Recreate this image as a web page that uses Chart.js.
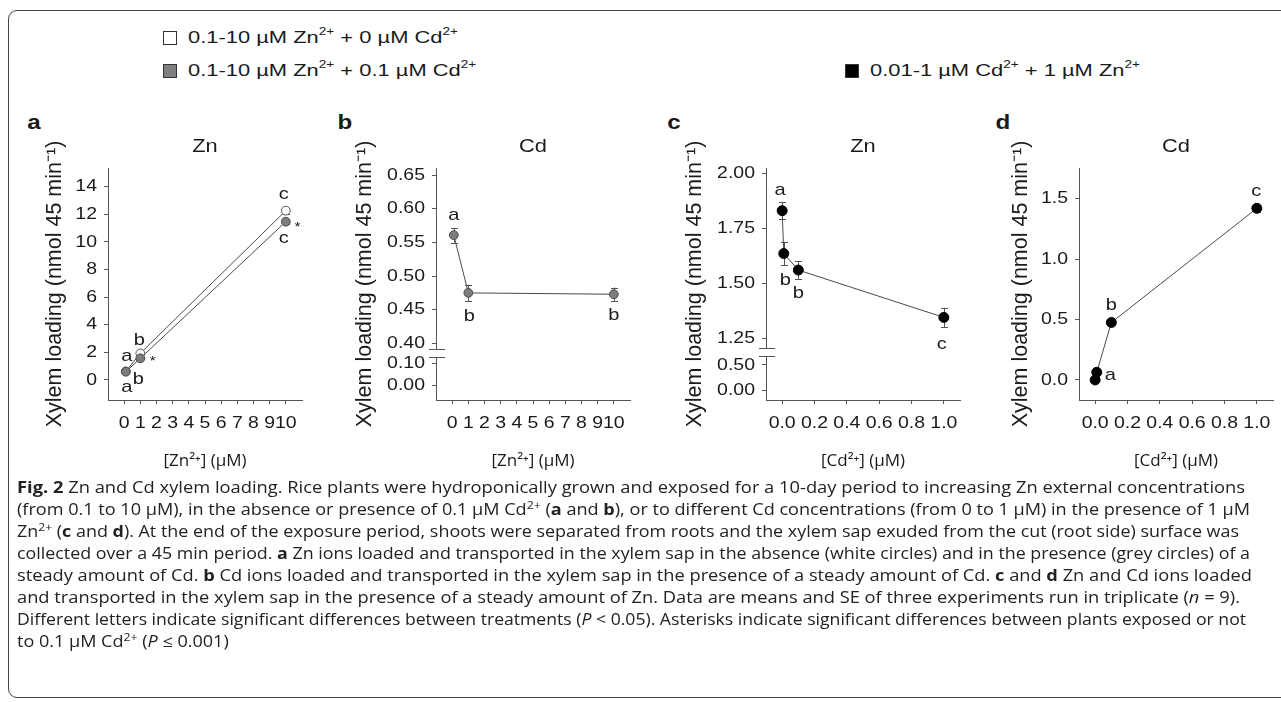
<!DOCTYPE html>
<html>
<head>
<meta charset="utf-8">
<title>Fig. 2 Zn and Cd xylem loading</title>
<script src="https://cdn.jsdelivr.net/npm/chart.js@4.4.1/dist/chart.umd.min.js"></script>
<style>
html,body{margin:0;padding:0;background:#fff;}
body{width:1281px;height:702px;position:relative;overflow:hidden;font-family:"Liberation Sans",Arial,Helvetica,sans-serif;color:#1a1a1a;}
#frame{position:absolute;left:8px;top:10px;width:1300px;height:688px;border:1.6px solid #444;border-radius:9px;box-sizing:border-box;}
.abs{position:absolute;white-space:nowrap;}
.leg{font-size:17px;line-height:20px;transform-origin:0 0;}
.leg sup{font-size:0.62em;line-height:0;vertical-align:0.75em;}
.sw{position:absolute;width:14px;height:14px;box-sizing:border-box;border:1px solid #333;}
.plet{font-weight:bold;font-size:21px;line-height:21px;}
.cap{font-family:"Open Sans","Noto Sans",sans-serif;font-size:16px;line-height:22px;transform-origin:0 0;left:17px;color:#222;}
.cap sup{font-size:0.68em;line-height:0;vertical-align:0.55em;}
canvas{position:absolute;}
</style>
</head>
<body>
<div id="frame"></div>
<div id="legend"></div>
<div id="pletters"></div>
<canvas id="pa"></canvas>
<canvas id="pb"></canvas>
<canvas id="pc"></canvas>
<canvas id="pd"></canvas>
<div id="caption"></div>
<script>
// ================= DATA =================
// external concentrations (µM)
const znConc = [0.1, 1, 10];          // panels a, b
const cdConc = [0, 0.01, 0.1, 1];     // panels c, d

// panel a: Zn loading (nmol 45 min-1)
const aZnNoCd    = [0.62, 1.93, 12.27];
const aZnNoCdErr = [0.06, 0.10, 0.22];
const aZnCd      = [0.60, 1.57, 11.47];
const aZnCdErr   = [0.06, 0.09, 0.20];
// panel b: Cd loading
const bCd        = [0.561, 0.475, 0.473];
const bCdErr     = [0.011, 0.012, 0.010];
// panel c: Zn loading
const cZn        = [1.830, 1.635, 1.560, 1.345];
const cZnErr     = [0.040, 0.054, 0.040, 0.044];
// panel d: Cd loading
const dCd        = [0.000, 0.064, 0.476, 1.422];
const dCdErr     = [0.004, 0.008, 0.012, 0.028];

// significance letters
const aLettersNoCd = ['a', 'b', 'c'];
const aLettersCd   = ['a', 'b', 'c'];
const aStars       = ['', '*', '*'];
const bLetters     = ['a', 'b', 'b'];
const cLetters     = ['a', 'b', 'b', 'c'];
const dLetters     = ['', 'a', 'b', 'c'];

// tick labels
const abXTicks = [0, 1, 2, 3, 4, 5, 6, 7, 8, 9, 10];
const cdXTicks = [0, 0.2, 0.4, 0.6, 0.8, 1.0];
const aYTicks  = [0, 2, 4, 6, 8, 10, 12, 14];
const bYTicks  = [0.00, 0.10, 0.40, 0.45, 0.50, 0.55, 0.60, 0.65];
const cYTicks  = [0.00, 0.50, 1.25, 1.50, 1.75, 2.00];
const dYTicks  = [0.0, 0.5, 1.0, 1.5];

// texts
const panelLetters = ['a', 'b', 'c', 'd'];
const panelTitles  = ['Zn', 'Cd', 'Zn', 'Cd'];
const xTitles      = ['[Zn²⁺] (μM)', '[Zn²⁺] (μM)', '[Cd²⁺] (μM)', '[Cd²⁺] (μM)'];
const yTitle       = 'Xylem loading (nmol 45 min⁻¹)';
const legendTexts  = [
  '0.1-10 µM Zn<sup>2+</sup> + 0 µM Cd<sup>2+</sup>',
  '0.1-10 µM Zn<sup>2+</sup> + 0.1 µM Cd<sup>2+</sup>',
  '0.01-1 µM Cd<sup>2+</sup> + 1 µM Zn<sup>2+</sup>'
];
const captionLines = [
  '<b>Fig. 2</b> Zn and Cd xylem loading. Rice plants were hydroponically grown and exposed for a 10-day period to increasing Zn external concentrations',
  '(from 0.1 to 10 μM), in the absence or presence of 0.1 μM Cd<sup>2+</sup> (<b>a</b> and <b>b</b>), or to different Cd concentrations (from 0 to 1 μM) in the presence of 1 μM',
  'Zn<sup>2+</sup> (<b>c</b> and <b>d</b>). At the end of the exposure period, shoots were separated from roots and the xylem sap exuded from the cut (root side) surface was',
  'collected over a 45 min period. <b>a</b> Zn ions loaded and transported in the xylem sap in the absence (white circles) and in the presence (grey circles) of a',
  'steady amount of Cd. <b>b</b> Cd ions loaded and transported in the xylem sap in the presence of a steady amount of Cd. <b>c</b> and <b>d</b> Zn and Cd ions loaded',
  'and transported in the xylem sap in the presence of a steady amount of Zn. Data are means and SE of three experiments run in triplicate (<i>n</i> = 9).',
  'Different letters indicate significant differences between treatments (<i>P</i> &lt; 0.05). Asterisks indicate significant differences between plants exposed or not',
  'to 0.1 μM Cd<sup>2+</sup> (<i>P</i> ≤ 0.001)'
];

// ================= LAYOUT / STYLE =================
const SANS  = '"Liberation Sans", Arial, Helvetica, sans-serif';
const HUMAN = '"Open Sans", "Noto Sans", sans-serif';
const INK = '#1a1a1a', AXIS = '#555', LINE = '#4a4a4a';
const GREY = '#7d7d7d', GREY_EDGE = '#4a4a4a';
const STRETCH = 1.18;
const CANVAS_TOP = 130, CANVAS_H = 350, AREA_W = 194, PAD_R = 8, X_AXIS_H = 80;

const LAY = {
  canvasLeft: [38, 348, 678, 1004],
  yAxisW:     [70, 88, 88, 75],
  letterX:    [34, 345, 674, 1003],
  letterTop:  110.7,
  legend: [
    {sw: [163, 31], txt: [188, 28], fill: '#fff'},
    {sw: [163, 64], txt: [188, 61], fill: '#808080'},
    {sw: [845, 64], txt: [870, 61], fill: '#000'}
  ],
  legendW: 270,
  capTop: 476, capStep: 22,
  capW: [1228, 1233, 1222, 1233, 1235, 1223, 1229],
  // letter offsets [dx, dy to baseline] relative to the point
  aNoCd: [[1, -10], [-1, -8], [-2, -11.7]],
  aCd:   [[1, 20], [-2, 26], [-2, 21.6]],
  aStar: [null, [12.4, 6.8], [11.7, 9]],
  b:     [[0, -15.4], [1, 27.7], [0, 26]],
  c:     [[-2, -15.7], [1.5, 31.7], [0, 27.7], [-2, 31.7]],
  d:     [null, [13.5, 7.7], [0, -12.7], [-0.5, -12.6]]
};

// ================= HTML TEXT =================
const legendEl = document.getElementById('legend');
const legSpans = [];
LAY.legend.forEach((L, i) => {
  const sw = document.createElement('div');
  sw.className = 'sw';
  sw.style.left = L.sw[0] + 'px'; sw.style.top = L.sw[1] + 'px'; sw.style.background = L.fill;
  legendEl.appendChild(sw);
  const t = document.createElement('div');
  t.className = 'abs leg';
  t.style.left = L.txt[0] + 'px'; t.style.top = L.txt[1] + 'px';
  t.innerHTML = legendTexts[i];
  legendEl.appendChild(t);
  legSpans.push(t);
});
const legScale = LAY.legendW / legSpans[0].getBoundingClientRect().width;
legSpans.forEach(t => t.style.transform = 'scaleX(' + legScale + ')');

const pl = document.getElementById('pletters');
panelLetters.forEach((s, i) => {
  const d = document.createElement('div');
  d.className = 'abs plet';
  d.textContent = s;
  d.style.left = LAY.letterX[i] + 'px';
  d.style.top = LAY.letterTop + 'px';
  d.style.transform = 'translateX(-50%) scaleX(1.15)';
  pl.appendChild(d);
});

const capEl = document.getElementById('caption');
const capDivs = captionLines.map((h, i) => {
  const d = document.createElement('div');
  d.className = 'abs cap';
  d.style.top = (LAY.capTop + i * LAY.capStep) + 'px';
  d.innerHTML = h;
  capEl.appendChild(d);
  return d;
});
let fsum = 0, fn = 0;
capDivs.forEach((d, i) => {
  const w = d.getBoundingClientRect().width;
  if (LAY.capW[i]) { const f = LAY.capW[i] / w; fsum += f; fn++; d.style.transform = 'scaleX(' + f + ')'; }
});
capDivs.forEach((d, i) => { if (!LAY.capW[i]) d.style.transform = 'scaleX(' + (fsum / fn) + ')'; });

// ================= CHART HELPERS =================
function stretchCtx(canvas) {
  const ctx = canvas.getContext('2d');
  const orig = ctx.fillText.bind(ctx);
  ctx.fillText = function (text, x, y) {
    const m = ctx.getTransform();
    if (Math.abs(m.b) > 1e-6 || ctx.font.indexOf('Open Sans') >= 0) { orig(text, x, y); return; }
    ctx.save(); ctx.translate(x, y); ctx.scale(STRETCH, 1); orig(text, 0, 0); ctx.restore();
  };
}

function makeBreak(upperMin, lowerMax, gap, lowerScale) {
  const f = v => (v >= upperMin ? v : upperMin - gap - (lowerMax - v) * lowerScale);
  f.mid = upperMin - gap / 2;
  return f;
}
const ident = v => v;
ident.mid = null;

const marks = {
  id: 'marks',
  beforeDatasetsDraw(chart) {
    const ctx = chart.ctx, xs = chart.scales.x, ys = chart.scales.y;
    ctx.save();
    ctx.strokeStyle = AXIS; ctx.lineWidth = 1;
    chart.data.datasets.forEach(ds => {
      (ds.errors || []).forEach((e, i) => {
        const v = ds.values[i], map = ds.yMap;
        const px = Math.round(xs.getPixelForValue(ds.data[i].x)) + 0.5;
        const yt = ys.getPixelForValue(map(v + e)), yb = ys.getPixelForValue(map(v - e));
        ctx.beginPath();
        ctx.moveTo(px, yt); ctx.lineTo(px, yb);
        ctx.moveTo(px - 3.5, Math.round(yt) + 0.5); ctx.lineTo(px + 3.5, Math.round(yt) + 0.5);
        ctx.moveTo(px - 3.5, Math.round(yb) + 0.5); ctx.lineTo(px + 3.5, Math.round(yb) + 0.5);
        ctx.stroke();
      });
    });
    ctx.restore();
  },
  afterDatasetsDraw(chart) {
    const ctx = chart.ctx, xs = chart.scales.x, ys = chart.scales.y;
    ctx.save();
    ctx.fillStyle = INK; ctx.textAlign = 'center'; ctx.textBaseline = 'alphabetic';
    chart.data.datasets.forEach(ds => {
      const put = (arr, pos, size) => {
        if (!arr) return;
        ctx.font = size + 'px ' + SANS;
        arr.forEach((t, i) => {
          if (!t || !pos[i]) return;
          const px = xs.getPixelForValue(ds.data[i].x), py = ys.getPixelForValue(ds.data[i].y);
          ctx.fillText(t, px + pos[i][0], py + pos[i][1]);
        });
      };
      put(ds.letters, ds.letterPos, 17);
      put(ds.stars, ds.starPos, 13);
    });
    ctx.restore();
  }
};

const yBreak = {
  id: 'yBreak',
  afterDraw(chart, args, o) {
    if (!o || o.at == null) return;
    const ctx = chart.ctx, x = chart.chartArea.left;
    const y = Math.round(chart.scales.y.getPixelForValue(o.at));
    ctx.save();
    ctx.fillStyle = '#fff';
    ctx.fillRect(x - 3, y - 3, 6, 7);
    ctx.strokeStyle = AXIS; ctx.lineWidth = 1;
    ctx.beginPath();
    ctx.moveTo(x - 7, y - 3.5); ctx.lineTo(x + 9, y - 3.5);
    ctx.moveTo(x - 7, y + 4.5); ctx.lineTo(x + 9, y + 4.5);
    ctx.stroke();
    ctx.restore();
  }
};

function series(xv, values, map, style, extra) {
  return Object.assign({
    data: xv.map((x, i) => ({x: x, y: map(values[i])})),
    values: values, yMap: map,
    borderColor: LINE, borderWidth: 1, tension: 0, clip: false,
    pointRadius: 4.4, pointBorderWidth: 1,
    pointBackgroundColor: style.fill, pointBorderColor: style.edge
  }, extra);
}

function panel(k, cfg) {
  const canvas = document.getElementById(cfg.id);
  const yW = LAY.yAxisW[k];
  canvas.width = yW + AREA_W + PAD_R;
  canvas.height = CANVAS_H;
  canvas.style.left = LAY.canvasLeft[k] + 'px';
  canvas.style.top = CANVAS_TOP + 'px';
  stretchCtx(canvas);
  return new Chart(canvas, {
    type: 'line',
    data: {datasets: cfg.datasets},
    options: {
      responsive: false, animation: false, devicePixelRatio: 1, events: [],
      layout: {padding: {left: 0, right: PAD_R, top: 0, bottom: 0}},
      plugins: {
        legend: {display: false},
        tooltip: {enabled: false},
        title: {display: true, text: panelTitles[k], fullSize: false, color: INK,
                font: {family: SANS, size: 18.5, weight: 'normal'}, padding: {top: 5.4, bottom: 10.4}},
        yBreak: cfg.map.mid != null ? {at: cfg.map.mid} : false
      },
      scales: {
        x: {
          type: 'linear', min: cfg.xMin, max: cfg.xMax,
          afterBuildTicks: s => { s.ticks = cfg.xTicks.map(v => ({value: v})); },
          afterFit: s => { s.height = X_AXIS_H; },
          ticks: {autoSkip: false, maxRotation: 0, minRotation: 0, padding: 10, color: INK,
                  font: {family: SANS, size: 16.5}, callback: (v, i) => cfg.xFmt(cfg.xTicks[i])},
          grid: {drawOnChartArea: false, drawTicks: true, tickLength: 4, color: AXIS, lineWidth: 1},
          border: {color: AXIS, width: 1},
          title: {display: true, text: xTitles[k], color: INK, font: {family: HUMAN, size: 17},
                  padding: {top: 0, bottom: 9}}
        },
        y: {
          type: 'linear', min: cfg.yMin, max: cfg.yMax,
          afterBuildTicks: s => { s.ticks = cfg.yTicks.map(v => ({value: cfg.map(v)})); },
          afterFit: s => { s.width = yW; },
          ticks: {autoSkip: false, padding: 7, color: INK, font: {family: SANS, size: 16.5},
                  callback: (v, i) => cfg.yFmt(cfg.yTicks[i])},
          grid: {drawOnChartArea: false, drawTicks: true, tickLength: 4, color: AXIS, lineWidth: 1},
          border: {color: AXIS, width: 1},
          title: {display: true, text: yTitle, color: INK, font: {family: SANS, size: 21.5},
                  padding: {top: 4, bottom: 0}}
        }
      }
    },
    plugins: [marks, yBreak]
  });
}

// ================= PANELS =================
const WHITE = {fill: '#ffffff', edge: '#555'};
const GREYS = {fill: GREY, edge: GREY_EDGE};
const BLACK = {fill: '#000000', edge: '#000000'};
const bMap = makeBreak(0.40, 0.10, 0.0298, 1 / 3);
const cMap = makeBreak(1.25, 0.50, 0.1214, 0.2273);
const intFmt = v => String(v);
const f1 = v => v.toFixed(1), f2 = v => v.toFixed(2);

panel(0, {
  id: 'pa', map: ident, xMin: -1, xMax: 11, xTicks: abXTicks, xFmt: intFmt,
  yMin: -1.45, yMax: 15.36, yTicks: aYTicks, yFmt: intFmt,
  datasets: [
    series(znConc, aZnNoCd, ident, WHITE, {order: 1, errors: aZnNoCdErr, letters: aLettersNoCd, letterPos: LAY.aNoCd}),
    series(znConc, aZnCd, ident, GREYS, {order: 0, errors: aZnCdErr, letters: aLettersCd, letterPos: LAY.aCd, stars: aStars, starPos: LAY.aStar})
  ]
});
panel(1, {
  id: 'pb', map: bMap, xMin: -1, xMax: 11, xTicks: abXTicks, xFmt: intFmt,
  yMin: 0.3156, yMax: 0.6609, yTicks: bYTicks, yFmt: f2,
  datasets: [
    series(znConc, bCd, bMap, GREYS, {errors: bCdErr, letters: bLetters, letterPos: LAY.b})
  ]
});
panel(2, {
  id: 'pc', map: cMap, xMin: -0.1, xMax: 1.1, xTicks: cdXTicks, xFmt: f1,
  yMin: 0.9695, yMax: 2.024, yTicks: cYTicks, yFmt: f2,
  datasets: [
    series(cdConc, cZn, cMap, BLACK, {pointRadius: 5, errors: cZnErr, letters: cLetters, letterPos: LAY.c})
  ]
});
panel(3, {
  id: 'pd', map: ident, xMin: -0.1, xMax: 1.1, xTicks: cdXTicks, xFmt: f1,
  yMin: -0.166, yMax: 1.756, yTicks: dYTicks, yFmt: f1,
  datasets: [
    series(cdConc, dCd, ident, BLACK, {pointRadius: 5, errors: dCdErr, letters: dLetters, letterPos: LAY.d})
  ]
});
</script>
</body>
</html>
